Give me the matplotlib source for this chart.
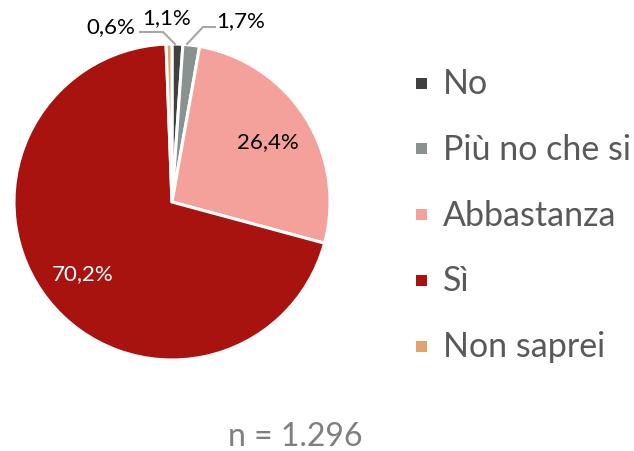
import numpy as np
import matplotlib.pyplot as plt
from matplotlib.patches import Rectangle

plt.rcParams['font.family'] = ['Lato', 'DejaVu Sans']

# data
categories = ['No', 'Più no che si', 'Abbastanza', 'Sì', 'Non saprei']
values = [1.1, 1.7, 26.4, 70.2, 0.6]
labels = ['1,1%', '1,7%', '26,4%', '70,2%', '0,6%']
colors = ['#404040', '#8b9090', '#f4a09b', '#a8130f', '#e0a46e']
n_text = 'n = 1.296'

W, H = 634, 452
fig = plt.figure(figsize=(W / 100, H / 100), dpi=100)

# pie centre (172, 203) px, radius 158 px
cx, cy, r = 172, 203, 158
ax = fig.add_axes([(cx - r) / W, (H - cy - r) / H, 2 * r / W, 2 * r / H])

wedges, _ = ax.pie(values, colors=colors, startangle=90, counterclock=False,
                   radius=1, frame=True,
                   wedgeprops=dict(edgecolor='white', linewidth=2.2))
ax.set_xlim(-1, 1)
ax.set_ylim(-1, 1)
ax.axis('off')

# middle angle of every slice
angles = []
start = 90.0
for v in values:
    span = v / sum(values) * 360
    angles.append(start - span / 2)
    start -= span

# labels inside the big slices
for i, col in [(2, 'black'), (3, 'white')]:
    a = np.deg2rad(angles[i])
    ax.text(0.72 * np.cos(a), 0.72 * np.sin(a), labels[i], ha='center', va='center',
            fontsize=16, color=col)


def px(x, y):
    # pixel position -> pie data coords
    return (x - cx) / r, (cy - y) / r


# small slices: labels outside, with leader lines
lx, ly = px(167, 18)
ax.text(lx, ly, labels[0], ha='center', va='center', fontsize=16, color='black', clip_on=False)

lx, ly = px(241, 21)
ax.text(lx, ly, labels[1], ha='center', va='center', fontsize=16, color='black', clip_on=False)
pts = [px(215, 28), px(203, 28), px(187, 45)]
ax.plot([p[0] for p in pts], [p[1] for p in pts], color='#a6a6a6', lw=1.5, clip_on=False)

lx, ly = px(111, 27)
ax.text(lx, ly, labels[4], ha='center', va='center', fontsize=16, color='black', clip_on=False)
pts = [px(140, 33), px(163, 33), px(175, 45)]
ax.plot([p[0] for p in pts], [p[1] for p in pts], color='#a6a6a6', lw=1.5, clip_on=False)

# legend, drawn by hand
sq = 11
for i, (cat, col) in enumerate(zip(categories, colors)):
    yc = 84 + i * 65.8
    fig.patches.append(Rectangle((416 / W, (H - yc - sq / 2) / H), sq / W, sq / H,
                                 facecolor=col, edgecolor='none',
                                 transform=fig.transFigure, figure=fig))
    fig.text(443 / W, (H - yc) / H, cat, ha='left', va='center',
             fontsize=24.5, color='#595959')

fig.text(295 / W, (H - 437) / H, n_text, ha='center', va='center',
         fontsize=23, color='#7f7f7f')

fig.savefig('out.png', dpi=100)
